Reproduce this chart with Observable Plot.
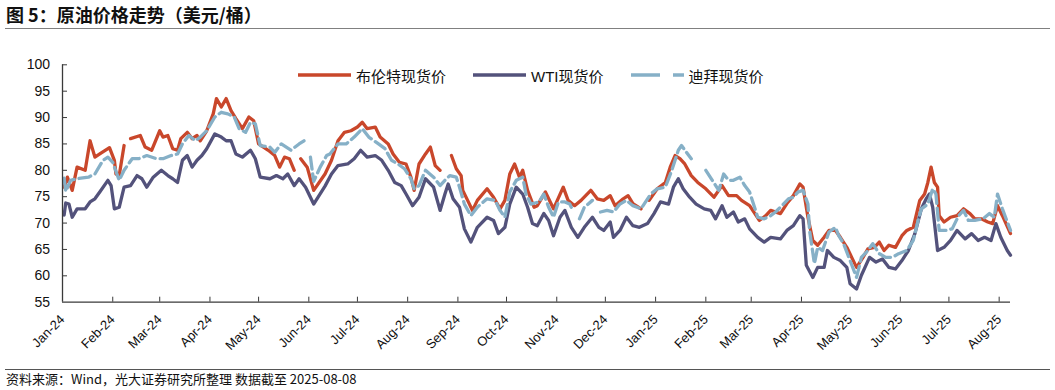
<!DOCTYPE html>
<html><head><meta charset="utf-8">
<script src="https://cdn.jsdelivr.net/npm/d3@7"></script>
<script src="https://cdn.jsdelivr.net/npm/@observablehq/plot@0.6"></script>
<style>
body{margin:0;background:#fff;}
#wrap{position:relative;width:1055px;height:390px;overflow:hidden;font-family:"Liberation Sans","Noto Sans CJK SC",sans-serif;}
#title{position:absolute;left:6px;top:2px;font:bold 18px "Noto Sans CJK SC",sans-serif;color:#111;line-height:25px;white-space:nowrap;}
#rule1{position:absolute;left:5px;top:27.5px;width:1045px;height:1.5px;background:#808080;}
#chart{position:absolute;left:0;top:30px;}
#legend{position:absolute;left:298px;top:64px;height:22px;display:flex;align-items:center;font-size:15px;color:#111;white-space:nowrap;}
.item{display:flex;align-items:center;margin-right:27px;}
.item svg{margin-right:5px;display:block}
#rule2{position:absolute;left:5px;top:368.5px;width:1045px;height:1.5px;background:#555;}
#caption{position:absolute;left:6px;top:371px;font:13px "Noto Sans CJK SC",sans-serif;color:#111;line-height:16px;white-space:nowrap;}
</style></head>
<body>
<div id="wrap">
  <div id="title"></div>
  <div id="rule1"></div>
  <div id="chart"></div>
  <div id="legend"></div>
  <div id="rule2"></div>
  <div id="caption"></div>
</div>
<script>
const titleText = "图 5：原油价格走势（美元/桶）";
const captionText = "资料来源：Wind，光大证券研究所整理 数据截至 2025-08-08";
const seriesNames = ["布伦特现货价", "WTI现货价", "迪拜现货价"];
const yTicks = [55, 60, 65, 70, 75, 80, 85, 90, 95, 100];
const monthTicks = ["2024-01-01","2024-02-01","2024-03-01","2024-04-01","2024-05-01","2024-06-01","2024-07-01","2024-08-01","2024-09-01","2024-10-01","2024-11-01","2024-12-01","2025-01-01","2025-02-01","2025-03-01","2025-04-01","2025-05-01","2025-06-01","2025-07-01","2025-08-01"];
const xDomain = ["2024-01-01", "2025-08-08"];

const brentDates = ["2024-01-02","2024-01-04","2024-01-07","2024-01-10","2024-01-15","2024-01-18","2024-01-21","2024-01-24","2024-01-30","2024-02-02","2024-02-03","2024-02-05","2024-02-08","2024-02-10","2024-02-12","2024-02-18","2024-02-21","2024-02-25","2024-03-01","2024-03-03","2024-03-06","2024-03-09","2024-03-12","2024-03-14","2024-03-18","2024-03-21","2024-03-24","2024-03-26","2024-03-30","2024-04-03","2024-04-05","2024-04-08","2024-04-11","2024-04-14","2024-04-17","2024-04-21","2024-04-25","2024-04-28","2024-05-01","2024-05-07","2024-05-11","2024-05-14","2024-05-17","2024-05-20","2024-05-23","2024-05-25","2024-05-27","2024-05-31","2024-06-04","2024-06-11","2024-06-15","2024-06-19","2024-06-23","2024-06-27","2024-07-01","2024-07-04","2024-07-07","2024-07-12","2024-07-15","2024-07-20","2024-07-23","2024-07-27","2024-07-31","2024-08-03","2024-08-05","2024-08-08","2024-08-12","2024-08-15","2024-08-18","2024-08-21","2024-08-24","2024-08-28","2024-08-31","2024-09-03","2024-09-04","2024-09-07","2024-09-10","2024-09-13","2024-09-19","2024-09-23","2024-09-27","2024-09-30","2024-10-03","2024-10-06","2024-10-09","2024-10-11","2024-10-14","2024-10-18","2024-10-20","2024-10-25","2024-10-30","2024-11-05","2024-11-08","2024-11-12","2024-11-16","2024-11-22","2024-11-26","2024-11-30","2024-12-04","2024-12-07","2024-12-12","2024-12-15","2024-12-18","2024-12-23","2024-12-26","2024-12-28","2025-01-02","2025-01-07","2025-01-10","2025-01-13","2025-01-16","2025-01-19","2025-01-23","2025-01-27","2025-02-01","2025-02-06","2025-02-11","2025-02-15","2025-02-20","2025-02-23","2025-02-28","2025-03-06","2025-03-10","2025-03-13","2025-03-19","2025-03-23","2025-03-27","2025-03-31","2025-04-02","2025-04-05","2025-04-08","2025-04-11","2025-04-15","2025-04-18","2025-04-22","2025-04-25","2025-04-29","2025-05-02","2025-05-05","2025-05-09","2025-05-12","2025-05-16","2025-05-19","2025-05-22","2025-05-25","2025-05-29","2025-06-02","2025-06-05","2025-06-09","2025-06-13","2025-06-16","2025-06-18","2025-06-20","2025-06-22","2025-06-24","2025-06-25","2025-06-28","2025-07-02","2025-07-06","2025-07-10","2025-07-14","2025-07-17","2025-07-21","2025-07-25","2025-07-28","2025-07-31","2025-08-03","2025-08-08"];
const brentValues = [76.8,78.7,76.2,80.6,80.0,85.6,82.5,83.1,84.3,81.9,79.3,79.0,84.7,null,86.0,86.6,84.4,83.8,87.5,86.3,86.6,84.1,83.8,86.0,87.2,86.0,86.6,85.6,87.5,90.7,93.6,92.0,93.6,91.3,89.8,87.9,90.1,89.4,85.0,83.8,82.8,80.6,82.5,82.2,80.0,null,82.2,80.6,76.2,79.3,81.9,85.6,87.2,87.5,88.2,89.1,87.9,88.2,86.3,85.0,83.1,81.5,81.2,78.7,76.2,81.2,83.1,84.4,80.9,80.0,null,82.8,80.3,79.0,76.2,74.3,72.4,74.3,76.5,74.9,72.7,74.3,79.3,81.2,78.7,80.0,76.2,73.0,73.3,75.9,72.7,76.8,74.3,73.3,74.3,76.2,74.6,74.3,75.2,73.3,74.6,75.2,73.7,72.7,null,74.3,76.5,77.7,80.6,82.8,82.2,81.2,79.0,77.7,76.5,74.9,77.1,75.2,75.2,74.3,73.3,70.5,71.4,72.4,71.8,73.7,75.2,77.4,76.8,71.1,66.7,65.8,67.3,68.6,68.6,67.3,65.4,63.5,61.6,63.5,65.1,65.4,66.4,64.8,65.8,65.4,67.6,68.6,69.2,74.3,75.5,77.7,80.6,77.7,76.8,71.4,70.2,71.1,71.4,72.7,71.8,70.8,70.8,70.2,69.9,73.3,71.4,68.0];

const wtiDates = ["2024-01-02","2024-01-03","2024-01-05","2024-01-07","2024-01-10","2024-01-15","2024-01-18","2024-01-21","2024-01-24","2024-01-29","2024-01-31","2024-02-02","2024-02-05","2024-02-08","2024-02-12","2024-02-16","2024-02-19","2024-02-22","2024-02-26","2024-03-02","2024-03-06","2024-03-09","2024-03-12","2024-03-15","2024-03-18","2024-03-21","2024-03-24","2024-03-27","2024-03-30","2024-04-04","2024-04-08","2024-04-11","2024-04-14","2024-04-17","2024-04-21","2024-04-26","2024-04-29","2024-05-02","2024-05-08","2024-05-12","2024-05-16","2024-05-19","2024-05-23","2024-05-26","2024-05-30","2024-06-04","2024-06-11","2024-06-15","2024-06-19","2024-06-25","2024-06-29","2024-07-03","2024-07-07","2024-07-12","2024-07-16","2024-07-20","2024-07-24","2024-07-28","2024-07-31","2024-08-04","2024-08-08","2024-08-12","2024-08-17","2024-08-21","2024-08-24","2024-08-26","2024-08-29","2024-09-02","2024-09-05","2024-09-09","2024-09-13","2024-09-19","2024-09-23","2024-09-26","2024-09-30","2024-10-03","2024-10-07","2024-10-11","2024-10-14","2024-10-17","2024-10-20","2024-10-24","2024-10-27","2024-10-30","2024-11-03","2024-11-06","2024-11-10","2024-11-14","2024-11-18","2024-11-23","2024-11-27","2024-11-30","2024-12-04","2024-12-06","2024-12-10","2024-12-14","2024-12-18","2024-12-22","2024-12-27","2024-12-31","2025-01-04","2025-01-09","2025-01-12","2025-01-15","2025-01-18","2025-01-22","2025-01-26","2025-01-31","2025-02-04","2025-02-07","2025-02-11","2025-02-14","2025-02-18","2025-02-21","2025-02-25","2025-02-28","2025-03-05","2025-03-09","2025-03-13","2025-03-19","2025-03-23","2025-03-27","2025-03-31","2025-04-02","2025-04-04","2025-04-08","2025-04-11","2025-04-15","2025-04-17","2025-04-21","2025-04-25","2025-04-29","2025-05-01","2025-05-05","2025-05-08","2025-05-13","2025-05-17","2025-05-21","2025-05-25","2025-05-29","2025-06-02","2025-06-06","2025-06-10","2025-06-14","2025-06-17","2025-06-19","2025-06-21","2025-06-24","2025-06-28","2025-07-02","2025-07-06","2025-07-11","2025-07-15","2025-07-19","2025-07-23","2025-07-27","2025-07-30","2025-08-02","2025-08-06","2025-08-08"];
const wtiValues = [71.5,73.8,73.6,71.1,72.7,72.7,74.0,74.6,75.9,78.1,77.1,72.7,73.0,76.8,77.1,79.0,78.4,76.8,78.7,80.0,79.0,78.4,77.7,81.9,82.8,80.6,81.9,82.8,84.1,86.9,86.3,85.6,85.6,83.1,82.5,83.8,82.2,78.7,78.4,79.0,78.4,79.3,77.1,78.4,76.8,73.6,77.0,79.3,80.9,81.2,82.2,83.8,82.5,82.8,81.9,80.0,77.7,77.1,75.5,73.3,74.9,78.4,76.8,72.4,75.5,77.4,74.6,73.0,68.9,66.4,69.2,71.1,70.5,68.0,69.2,73.6,76.8,75.5,73.0,69.9,69.5,71.8,70.5,67.6,71.1,72.4,69.2,67.3,69.2,71.1,69.2,68.6,70.2,67.3,68.6,71.1,69.5,69.2,69.9,71.8,74.0,73.6,76.8,78.4,76.5,74.9,73.6,72.7,72.4,70.8,73.3,71.1,72.1,70.2,70.8,68.9,67.3,66.4,67.3,67.0,68.6,69.5,71.4,70.8,62.0,59.7,61.6,61.6,64.8,63.5,62.9,61.6,58.5,57.5,60.1,63.5,62.6,63.2,61.6,61.3,62.9,64.8,68.0,72.7,74.6,75.5,73.0,64.8,65.4,66.7,68.6,67.0,68.0,66.7,67.3,66.7,69.9,67.3,64.8,63.9];

const dubaiDates = ["2024-01-02","2024-01-03","2024-01-06","2024-01-10","2024-01-17","2024-01-21","2024-01-26","2024-01-29","2024-02-01","2024-02-05","2024-02-08","2024-02-13","2024-02-17","2024-02-22","2024-02-28","2024-03-03","2024-03-08","2024-03-12","2024-03-15","2024-03-19","2024-03-23","2024-03-26","2024-03-30","2024-04-04","2024-04-08","2024-04-12","2024-04-16","2024-04-19","2024-04-23","2024-04-26","2024-04-29","2024-05-02","2024-05-08","2024-05-11","2024-05-15","2024-05-21","2024-05-26","2024-05-29","2024-05-31","2024-06-02","2024-06-04","2024-06-08","2024-06-12","2024-06-14","2024-06-19","2024-06-24","2024-06-29","2024-07-04","2024-07-08","2024-07-14","2024-07-18","2024-07-22","2024-07-26","2024-07-30","2024-08-03","2024-08-05","2024-08-08","2024-08-12","2024-08-17","2024-08-21","2024-08-24","2024-08-27","2024-08-31","2024-09-02","2024-09-05","2024-09-09","2024-09-13","2024-09-19","2024-09-24","2024-09-27","2024-09-30","2024-10-03","2024-10-07","2024-10-11","2024-10-13","2024-10-16","2024-10-21","2024-10-24","2024-10-27","2024-10-30","2024-11-02","2024-11-06","2024-11-09","2024-11-11","2024-11-13","2024-11-15","2024-11-18","2024-11-23","2024-11-25","2024-11-28","2024-12-02","2024-12-06","2024-12-10","2024-12-14","2024-12-18","2024-12-23","2024-12-29","2025-01-02","2025-01-07","2025-01-11","2025-01-15","2025-01-17","2025-01-20","2025-01-23","2025-01-27","2025-02-01","2025-02-05","2025-02-09","2025-02-12","2025-02-15","2025-02-18","2025-02-22","2025-02-25","2025-02-28","2025-03-02","2025-03-05","2025-03-09","2025-03-13","2025-03-16","2025-03-20","2025-03-24","2025-03-27","2025-03-30","2025-04-02","2025-04-05","2025-04-06","2025-04-09","2025-04-11","2025-04-14","2025-04-18","2025-04-22","2025-04-24","2025-04-27","2025-05-01","2025-05-05","2025-05-08","2025-05-12","2025-05-15","2025-05-19","2025-05-23","2025-05-27","2025-05-31","2025-06-05","2025-06-09","2025-06-12","2025-06-14","2025-06-18","2025-06-21","2025-06-23","2025-06-25","2025-06-29","2025-07-03","2025-07-07","2025-07-10","2025-07-13","2025-07-17","2025-07-22","2025-07-26","2025-07-29","2025-07-31","2025-08-03","2025-08-08"];
const dubaiValues = [78.5,76.0,78.1,78.4,78.7,79.3,81.9,82.5,81.5,78.1,80.0,82.2,82.2,82.8,82.2,82.2,82.8,83.1,85.0,86.6,85.6,86.3,87.5,90.1,91.0,90.7,90.1,87.9,87.2,89.1,88.8,84.7,84.4,83.4,85.0,83.8,85.0,85.6,null,82.5,77.9,80.6,82.8,83.1,85.0,85.0,86.3,87.9,86.3,85.0,84.1,81.9,81.2,80.3,78.4,76.5,77.1,80.0,78.7,77.1,78.1,79.0,78.7,76.8,73.6,71.4,73.0,74.6,74.3,72.4,71.1,75.9,78.1,78.7,75.5,73.6,74.0,75.5,73.0,71.1,74.0,74.0,73.6,72.4,null,70.8,73.0,74.3,null,72.1,72.4,72.1,73.6,74.3,73.3,72.7,75.5,76.5,76.8,80.0,83.8,84.7,83.4,82.2,null,80.0,78.1,76.2,79.3,78.1,78.1,78.7,77.1,75.9,74.0,71.1,70.8,71.4,72.1,73.3,74.6,74.9,75.9,76.2,73.6,68.6,62.3,65.4,64.8,68.3,69.2,67.6,66.1,62.9,59.7,63.5,64.8,66.1,64.2,63.5,63.5,64.2,64.8,66.7,70.5,72.7,73.6,76.5,75.5,68.6,68.6,68.9,71.4,72.4,70.5,70.5,70.8,71.8,71.1,75.5,72.7,68.6];

const colors = ["#c9472b", "#53527b", "#86b0c7"];

const toRows = (dates, values) => dates.map((d, i) => ({date: new Date(d), value: values[i]}));
const series = [toRows(brentDates, brentValues), toRows(wtiDates, wtiValues), toRows(dubaiDates, dubaiValues)];

document.getElementById("title").textContent = titleText;
document.getElementById("caption").textContent = captionText;

// legend
const legend = document.getElementById("legend");
seriesNames.forEach((name, i) => {
  const item = document.createElement("div");
  item.className = "item";
  const dash = i === 2 ? ' stroke-dasharray="29,13,11"' : '';
  item.innerHTML = `<svg width="53" height="8"><line x1="0" x2="53" y1="4" y2="4" stroke="${colors[i]}" stroke-width="3.5"${dash}/></svg><span>${name}</span>`;
  legend.appendChild(item);
});

const W = 1055, H = 338, mT = 34.3, mB = 66.3, mL = 62, mR = 45;
const innerW = W - mL - mR, innerH = H - mT - mB;
const axisColor = "#3a3a3a";
const months = monthTicks.map(d => new Date(d));
const fmt = d3.utcFormat("%b-%y");

const chart = Plot.plot({
  width: W, height: H,
  marginTop: mT, marginBottom: mB, marginLeft: mL, marginRight: mR,
  style: {fontFamily: "'Liberation Sans', Arial, sans-serif", color: "#111", background: "transparent"},
  x: {type: "utc", domain: xDomain.map(d => new Date(d)), axis: null},
  y: {domain: [55, 100], axis: null},
  marks: [
    Plot.line(series[0], {x: "date", y: "value", stroke: colors[0], strokeWidth: 3.3, strokeLinejoin: "round"}),
    Plot.line(series[1], {x: "date", y: "value", stroke: colors[1], strokeWidth: 3.3, strokeLinejoin: "round"}),
    Plot.line(series[2], {x: "date", y: "value", stroke: colors[2], strokeWidth: 3.3, strokeLinejoin: "round", strokeDasharray: "12,5"}),
    Plot.tickY(yTicks.slice(1), {y: d => d, insetRight: innerW - 5, stroke: axisColor, strokeWidth: 1}),
    Plot.tickX(months.slice(1), {x: d => d, insetTop: innerH - 5, stroke: axisColor, strokeWidth: 1}),
    Plot.ruleX([new Date(xDomain[0])], {y1: 55, y2: 100, stroke: axisColor, strokeWidth: 1.3}),
    Plot.ruleY([55], {stroke: axisColor, strokeWidth: 1.3}),
    Plot.text(yTicks, {y: d => d, frameAnchor: "left", dx: -12.5, textAnchor: "end", text: d => String(d), fontSize: 14}),
    Plot.text(months, {x: d => d, frameAnchor: "bottom", dx: 0, dy: 15, rotate: -45, textAnchor: "end", lineAnchor: "middle", text: d => fmt(d), fontSize: 13})
  ]
});
document.getElementById("chart").appendChild(chart);
</script>
</body></html>
